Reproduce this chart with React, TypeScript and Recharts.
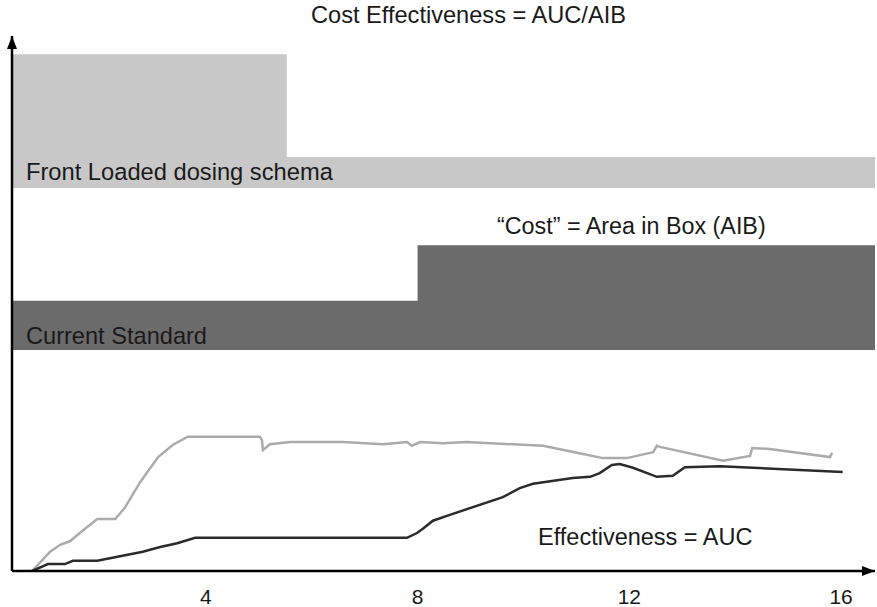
import React from 'react';
import { ComposedChart, Area, Line, XAxis, YAxis, ReferenceDot, ReferenceLine } from 'recharts';

// x positions are in the same units as the axis ticks, y is 0..100 of the plot height
const xTicks = [4, 8, 12, 16];
const xDomain = [0.34, 16.64];

const frontLoadedX = [0.34, 5.53, 16.64];
const frontLoadedTop = [96.6, 77.4, 77.4];
const frontLoadedBase = 71.6;

const standardX = [0.34, 8.0, 16.64];
const standardTop = [50.5, 60.9, 60.9];
const standardBase = 41.3;

const frontAucX = [0.72, 1.06, 1.25, 1.44, 1.62, 1.95, 2.29, 2.47, 2.76, 3.1, 3.38, 3.66, 5.02, 5.06, 5.08, 5.21, 5.59, 6.59, 7.35, 7.8, 7.89, 8.05, 8.48, 8.93, 10.37, 11.01, 11.5, 11.95, 12.45, 12.52, 12.58, 13.77, 14.28, 14.32, 14.65, 15.79, 15.83];
const frontAucY = [0, 3.6, 4.9, 5.6, 7.1, 9.7, 9.7, 11.8, 16.6, 21.3, 23.6, 25.1, 25.1, 24.5, 22.6, 23.7, 24.1, 24.1, 23.7, 24.1, 23.4, 24.1, 23.9, 24.1, 23.4, 22.1, 21.1, 21.1, 22.2, 23.4, 23.2, 20.6, 21.5, 23.0, 22.8, 21.3, 22.1];

const standardAucX = [0.72, 1.02, 1.34, 1.49, 1.95, 2.81, 3.14, 3.46, 3.8, 7.8, 7.99, 8.1, 8.29, 8.61, 9.61, 9.93, 10.18, 10.93, 11.26, 11.44, 11.67, 11.82, 12.07, 12.52, 12.82, 13.05, 13.71, 16.03];
const standardAucY = [0, 1.3, 1.3, 1.9, 1.9, 3.6, 4.5, 5.2, 6.2, 6.2, 7.1, 7.9, 9.4, 10.5, 13.8, 15.5, 16.3, 17.4, 17.6, 18.3, 19.8, 20.0, 19.3, 17.6, 17.8, 19.4, 19.6, 18.5];

const stepData = (xs: number[], tops: number[], base: number) =>
  xs.map((x, i) => ({ x, range: [base, tops[i]] }));
const lineData = (xs: number[], ys: number[]) => xs.map((x, i) => ({ x, y: ys[i] }));

const FONT = '"Liberation Sans", Arial, Helvetica, sans-serif';

const ArrowRight = (props: any) => {
  const { cx, cy } = props;
  return <path d={`M${cx},${cy} L${cx - 13},${cy - 5} L${cx - 13},${cy + 5} Z`} fill="#000" />;
};
const ArrowUp = (props: any) => {
  const { cx, cy } = props;
  return <path d={`M${cx},${cy} L${cx - 5},${cy + 13} L${cx + 5},${cy + 13} Z`} fill="#000" />;
};

const App = () => {
  return (
    <div style={{ position: 'absolute', left: 0, top: 0, width: 877, height: 607, background: '#fff' }}>
      <ComposedChart width={877} height={607} margin={{ top: 36, right: 2, left: 12, bottom: 0 }}>
        <XAxis
          dataKey="x"
          type="number"
          domain={xDomain}
          allowDataOverflow
          ticks={xTicks}
          tickLine={false}
          tickMargin={12}
          height={36}
          axisLine={{ stroke: '#000', strokeWidth: 2.5 }}
          tick={{ fill: '#1a1a1a', fontSize: 21, fontFamily: FONT }}
        />
        <YAxis type="number" domain={[0, 100]} allowDataOverflow hide />
        <Area
          data={stepData(frontLoadedX, frontLoadedTop, frontLoadedBase)}
          dataKey="range"
          type="stepAfter"
          fill="#c8c8c8"
          fillOpacity={1}
          stroke="none"
          isAnimationActive={false}
        />
        <Area
          data={stepData(standardX, standardTop, standardBase)}
          dataKey="range"
          type="stepAfter"
          fill="#6b6b6b"
          fillOpacity={1}
          stroke="none"
          isAnimationActive={false}
        />
        <Line
          data={lineData(frontAucX, frontAucY)}
          dataKey="y"
          type="linear"
          stroke="#ababab"
          strokeWidth={2.5}
          dot={false}
          isAnimationActive={false}
        />
        <Line
          data={lineData(standardAucX, standardAucY)}
          dataKey="y"
          type="linear"
          stroke="#2b2b2b"
          strokeWidth={2.5}
          dot={false}
          isAnimationActive={false}
        />
        <ReferenceLine x={xDomain[0]} stroke="#000" strokeWidth={2.5} />
        <ReferenceDot x={xDomain[1]} y={0} shape={ArrowRight} />
        <ReferenceDot x={xDomain[0]} y={100} shape={ArrowUp} />
      </ComposedChart>
      <svg
        width={877}
        height={607}
        style={{ position: 'absolute', left: 0, top: 0, pointerEvents: 'none' }}
        fontFamily={FONT}
        fill="#1a1a1a"
      >
        <text x={311} y={23} fontSize={23.6}>Cost Effectiveness = AUC/AIB</text>
        <text x={26} y={180} fontSize={23.7}>Front Loaded dosing schema</text>
        <text x={497} y={234} fontSize={23.3}>“Cost” = Area in Box (AIB)</text>
        <text x={26} y={344} fontSize={23.6}>Current Standard</text>
        <text x={538} y={545} fontSize={23.5}>Effectiveness = AUC</text>
      </svg>
    </div>
  );
};

export default App;
